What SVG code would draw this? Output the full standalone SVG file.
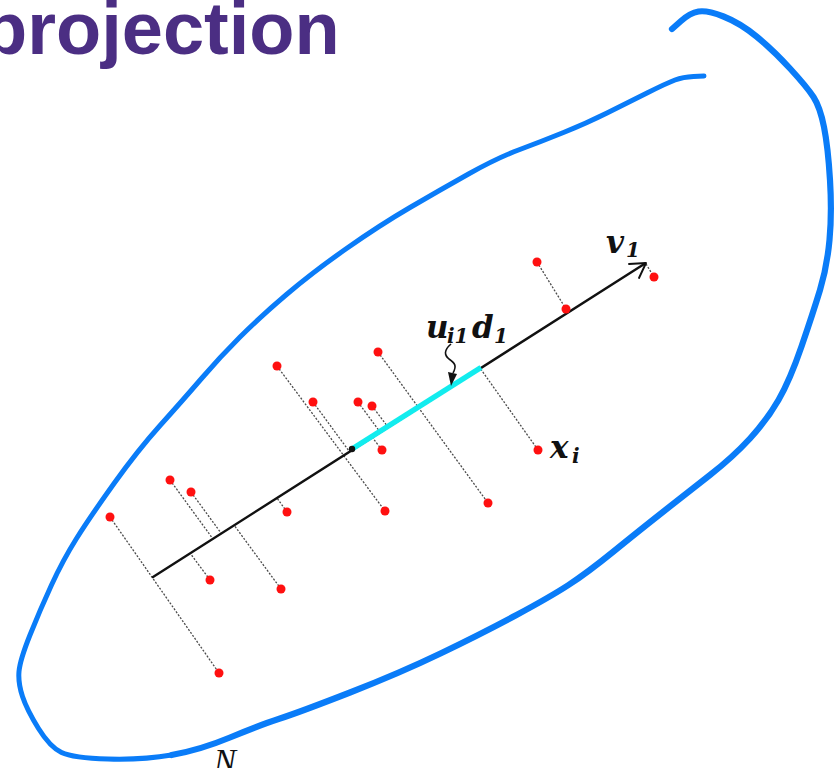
<svg xmlns="http://www.w3.org/2000/svg" width="834" height="768" viewBox="0 0 834 768">
<style>
.title{font-family:"Liberation Sans",Arial,sans-serif;font-weight:bold;font-size:74px;fill:#4B2E83}
.blob{fill:none;stroke:#0A7CF8;stroke-linecap:round;stroke-linejoin:round}
.proj{stroke:#4a4a4a;stroke-width:1.3;stroke-dasharray:2 1.6;fill:none}
.pt{fill:#FF1010}
.math{font-family:"DejaVu Serif",serif;font-weight:bold;font-style:italic;fill:#111}
.big{font-size:31px}
.sub{font-size:20px}
.nlab{font-family:"Liberation Serif","Times New Roman",serif;font-style:italic;font-size:33px;fill:#111}
</style>
<rect width="834" height="768" fill="#fff"/>
<text class="title" x="-18" y="54">projection</text>
<g id="outline">
<path class="blob" stroke-width="5" d="M704,76 L693.5,76.5 Q683,77 675,80 Q667,83 647,93 Q627,103 607,113 Q587,123 563.5,132.5 Q540,142 518.5,150 Q497,158 468.5,174 Q440,190 410,207.5 Q380,225 346.5,248.5 Q313,272 286.5,294.5 Q260,317 240,337 Q220,357 201.5,378.5 Q183,400 160.5,425 Q138,450 114,483.5 Q90,517 76.5,538.5 Q63,560 51.5,585 Q40,610 30,635 Q20,660 19,671.5 Q18,683 22.5,696.5 Q27,710 38.5,728.5 Q50,747 61.5,752.5 Q73,758 108,759 Q143,760 171.5,755"/>
<path class="blob" stroke-width="6.2" d="M171.5,755 Q200,750 230,737.5 Q260,725 280,718.5 Q300,712 350,692.5 Q400,673 441.5,653 Q483,633 516.5,615 Q550,597 568.5,585 Q587,573 613.5,551.5 Q640,530 663.5,511.5 Q687,493 710,475 Q733,457 750,438.5 Q767,420 778.5,400 Q790,380 801.5,346.5 Q813,313 820,290 Q827,267 829.5,240 Q832,213 830,180 Q828,147 824,127 Q820,107 813.5,97 Q807,87 790,68.5 Q773,50 756.5,36.5 Q740,23 723.5,16.5 Q707,10 698.5,11.5 Q690,13 681,21 L672,29"/>
</g>
<g id="connectors">
<line class="proj" x1="537" y1="262" x2="566" y2="309"/>
<line class="proj" x1="646" y1="264" x2="654" y2="277"/>
<line class="proj" x1="378" y1="352" x2="488" y2="503"/>
<line class="proj" x1="277" y1="366" x2="385" y2="511"/>
<line class="proj" x1="313" y1="402" x2="349" y2="451"/>
<line class="proj" x1="358" y1="402" x2="380" y2="432"/>
<line class="proj" x1="372" y1="406" x2="388" y2="427"/>
<line class="proj" x1="382" y1="450" x2="372" y2="437"/>
<line class="proj" x1="538" y1="450" x2="480" y2="368"/>
<line class="proj" x1="170" y1="480" x2="213" y2="539"/>
<line class="proj" x1="191" y1="492" x2="221" y2="533"/>
<line class="proj" x1="110" y1="517" x2="219" y2="673"/>
<line class="proj" x1="287" y1="512" x2="277" y2="498"/>
<line class="proj" x1="210" y1="580" x2="190" y2="553"/>
<line class="proj" x1="281" y1="589" x2="234" y2="525"/>
</g>
<g id="axis">
<line x1="153" y1="577" x2="645" y2="263.5" stroke="#111" stroke-width="2.4" stroke-linecap="round"/>
<polyline points="629,264 646,263 639,278" fill="none" stroke="#111" stroke-width="1.9" stroke-linejoin="round" stroke-linecap="round"/>
<line x1="352" y1="449" x2="481" y2="367.5" stroke="#12ECEE" stroke-width="5.5"/>
<circle cx="352" cy="449" r="3.2" fill="#111"/>
</g>
<g id="points">
<g id="p1"><circle class="pt" cx="537" cy="262" r="4.5"/></g>
<g id="p2"><circle class="pt" cx="654" cy="277" r="4.5"/></g>
<g id="p3"><circle class="pt" cx="566" cy="309" r="4.5"/></g>
<g id="p4"><circle class="pt" cx="378" cy="352" r="4.5"/></g>
<g id="p5"><circle class="pt" cx="277" cy="366" r="4.5"/></g>
<g id="p6"><circle class="pt" cx="313" cy="402" r="4.5"/></g>
<g id="p7"><circle class="pt" cx="358" cy="402" r="4.5"/></g>
<g id="p8"><circle class="pt" cx="372" cy="406" r="4.5"/></g>
<g id="p9"><circle class="pt" cx="382" cy="450" r="4.5"/></g>
<g id="xi"><circle class="pt" cx="538" cy="450" r="4.5"/></g>
<g id="p11"><circle class="pt" cx="170" cy="480" r="4.5"/></g>
<g id="p12"><circle class="pt" cx="191" cy="492" r="4.5"/></g>
<g id="p13"><circle class="pt" cx="110" cy="517" r="4.5"/></g>
<g id="p14"><circle class="pt" cx="287" cy="512" r="4.5"/></g>
<g id="p15"><circle class="pt" cx="385" cy="511" r="4.5"/></g>
<g id="p16"><circle class="pt" cx="488" cy="503" r="4.5"/></g>
<g id="p17"><circle class="pt" cx="210" cy="580" r="4.5"/></g>
<g id="p18"><circle class="pt" cx="281" cy="589" r="4.5"/></g>
<g id="p19"><circle class="pt" cx="219" cy="673" r="4.5"/></g>
</g>
<g id="label-ud">
<path d="M451,344 C444,350 444,355 449,359 C455,363 457,366 453,373" fill="none" stroke="#111" stroke-width="1.6"/>
<polygon points="448,372 457,374 451,386" fill="#111"/>
<text class="math big" x="426" y="338">u</text>
<text class="math sub" x="447" y="343">i1</text>
<text class="math big" x="472" y="338">d</text>
<text class="math sub" x="494" y="343">1</text>
</g>
<g id="label-v1">
<text class="math big" x="606" y="253">v</text>
<text class="math sub" x="626" y="257">1</text>
</g>
<g id="label-xi">
<text class="math big" x="550" y="458">x</text>
<text class="math sub" x="572" y="463">i</text>
</g>
<text class="nlab" x="214" y="772">N</text>
</svg>
